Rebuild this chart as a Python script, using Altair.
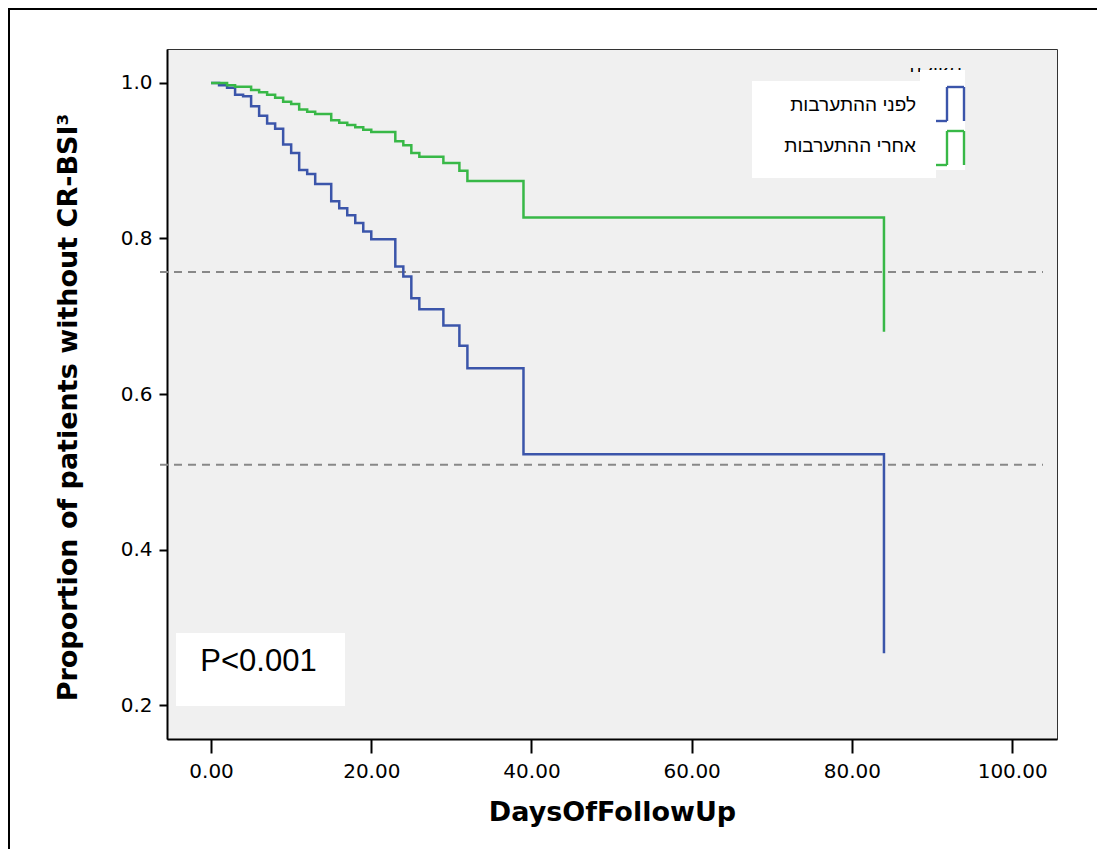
import altair as alt
import pandas as pd

# ---- data ----
blue_label = "לפני ההתערבות"
green_label = "אחרי ההתערבות"
legend_title = "תקופה"

blue_days = [0, 1, 2, 3, 4, 5, 6, 7, 8, 9, 10, 11, 12, 13, 15, 16, 17, 18, 19, 20,
             23, 24, 25, 26, 29, 31, 32, 39, 84]
blue_surv = [1.0, 0.997, 0.994, 0.985, 0.983, 0.970, 0.958, 0.948, 0.941, 0.921, 0.910,
             0.888, 0.883, 0.870, 0.848, 0.839, 0.830, 0.820, 0.809, 0.799,
             0.764, 0.751, 0.723, 0.709, 0.688, 0.662, 0.633, 0.5225, 0.2665]

green_days = [0, 2, 3, 5, 6, 7, 8, 9, 10, 11, 12, 13, 15, 16, 17, 18, 19, 20,
              23, 24, 25, 26, 29, 31, 32, 39, 84]
green_surv = [1.0, 0.997, 0.995, 0.991, 0.988, 0.985, 0.981, 0.976, 0.973, 0.966, 0.963,
              0.960, 0.952, 0.949, 0.946, 0.943, 0.940, 0.937,
              0.925, 0.920, 0.910, 0.905, 0.897, 0.887, 0.874, 0.827, 0.680]

ref_levels = [0.757, 0.509]
x_ticks = [0, 20, 40, 60, 80, 100]
y_ticks = [0.2, 0.4, 0.6, 0.8, 1.0]
p_text = "P<0.001"

BLUE = "#3b55aa"
GREEN = "#38b847"
BG = "#f0f0f0"
FONT = "DejaVu Sans"
HFONT = "Liberation Sans"

W, H = 890, 690
X_DOM = [-5.5, 105.6]
Y_DOM = [0.1563, 1.0437]

df = pd.concat([
    pd.DataFrame({"days": blue_days, "surv": blue_surv, "group": blue_label, "order": range(len(blue_days))}),
    pd.DataFrame({"days": green_days, "surv": green_surv, "group": green_label, "order": range(len(green_days))}),
])
ref_df = pd.DataFrame({"level": ref_levels})

xscale = alt.Scale(domain=X_DOM, nice=False, zero=False)
yscale = alt.Scale(domain=Y_DOM, nice=False, zero=False)

xaxis = alt.Axis(values=x_ticks, format=".2f", title="DaysOfFollowUp",
                 titleX=W / 2, titleY=73, titleBaseline="middle", titleAlign="center")
yaxis = alt.Axis(values=y_ticks, format=".1f", title="Proportion of patients without CR-BSI³",
                 titleX=-99, titleY=358, titleAngle=-90, titleBaseline="middle", titleAlign="center")

lines = alt.Chart(df).mark_line(interpolate="step-after", strokeWidth=2.5).encode(
    x=alt.X("days:Q", scale=xscale, axis=xaxis),
    y=alt.Y("surv:Q", scale=yscale, axis=yaxis),
    color=alt.Color("group:N", scale=alt.Scale(domain=[blue_label, green_label], range=[BLUE, GREEN]), legend=None),
    order="order:Q",
    detail="group:N",
)

refs = alt.Chart(ref_df).mark_rule(color="#888888", strokeWidth=2, strokeDash=[8, 6]).encode(
    y=alt.Y("level:Q", scale=yscale),
    x=alt.value(-7), x2=alt.value(876),
)

one = alt.Data(values=[{"a": 1}])

def rect(x, x2, y, y2, color):
    return alt.Chart(one).mark_rect(color=color).encode(
        x=alt.value(x), x2=alt.value(x2), y=alt.value(y), y2=alt.value(y2))

def seg(x, x2, y, y2, color, w=2.4):
    return alt.Chart(one).mark_rule(color=color, strokeWidth=w).encode(
        x=alt.value(x), x2=alt.value(x2), y=alt.value(y), y2=alt.value(y2))

def text(t, x, y, size, align="center", font=FONT, weight="normal", baseline="middle"):
    return alt.Chart(one).mark_text(text=t, fontSize=size, font=font, fontWeight=weight,
                                    align=align, baseline=baseline, color="black").encode(
        x=alt.value(x), y=alt.value(y))

# P-value box
pbox = rect(9, 178, 584, 657, "white")
ptxt = text(p_text, 91.5, 612.5, 31, font=HFONT)

# Legend
ltitle = text(legend_title, 795, 23, 19, align="right", font=HFONT, baseline="alphabetic")
lclip = rect(740, 805, 1, 19, BG)
lbox2 = rect(753, 798, 21, 121, "white")
lbox = rect(585, 769, 32, 129, "white")
lt1 = text(blue_label, 749, 55.5, 19, align="right", font=HFONT)
lt2 = text(green_label, 749, 96.5, 19, align="right", font=HFONT)

def glyph(ybot, ytop, color):
    return [seg(769, 780, ybot, ybot, color), seg(780, 780, ytop, ybot, color),
            seg(780, 797, ytop, ytop, color), seg(797, 797, ytop, ybot, color)]

g = glyph(72, 38, BLUE) + glyph(116, 82, GREEN)

# outer frame (left and top)
frame = [seg(-158, -158, -41, 800, "black", 2), seg(-159, 930, -40, -40, "black", 2)]

chart = alt.layer(
    refs, lines, pbox, ptxt, ltitle, lclip, lbox2, lbox, lt1, lt2, *g, *frame
).properties(
    width=W, height=H,
    autosize=alt.AutoSizeParams(type="none"),
    padding={"left": 159, "top": 41, "right": 40, "bottom": 110},
).configure(
    background="white",
).configure_view(
    fill=BG, stroke="#333333", strokeWidth=1,
).configure_axis(
    grid=False,
    domainColor="black", domainWidth=2,
    tickColor="black", tickWidth=2,
    labelColor="black", labelFont=FONT, labelFontSize=20,
    titleColor="black", titleFont=FONT, titleFontSize=27, titleFontWeight="bold",
).configure_axisX(
    tickSize=14, labelPadding=8,
).configure_axisY(
    tickSize=8, labelPadding=7,
)

chart.save("out.html", embed_options={"renderer": "svg", "actions": False})
